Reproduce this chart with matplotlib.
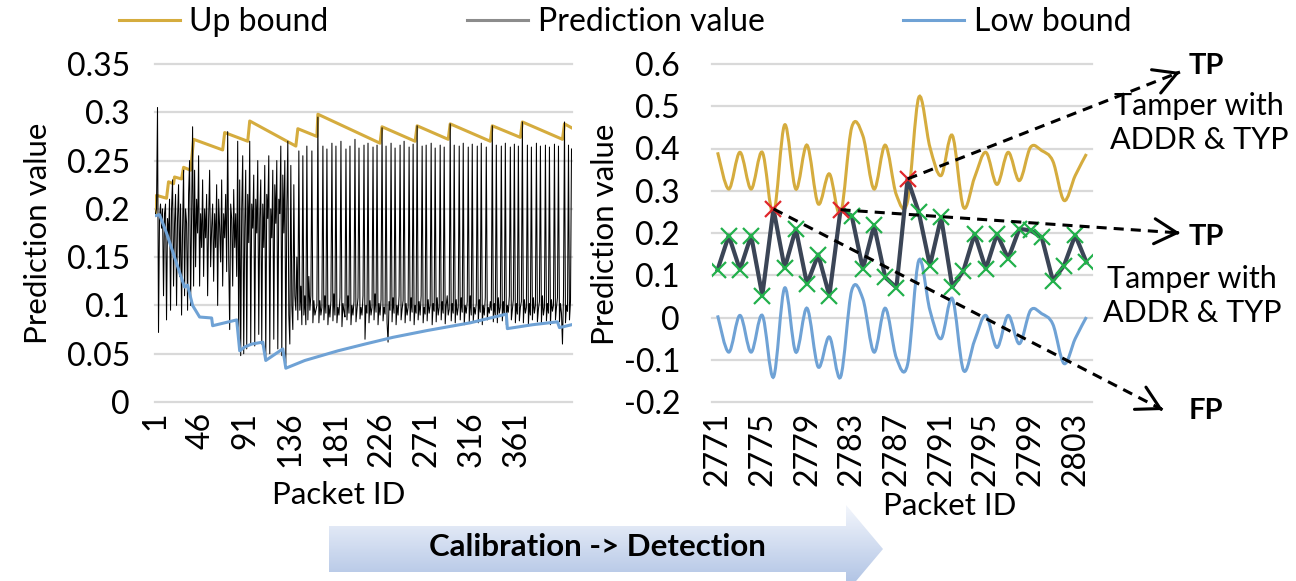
import numpy as np
import matplotlib.pyplot as plt
from matplotlib.path import Path
from matplotlib.patches import PathPatch, Polygon
from matplotlib.lines import Line2D
from matplotlib.colors import LinearSegmentedColormap

plt.rcParams['font.family'] = ['Lato', 'DejaVu Sans']

W, H = 1296, 581
GOLD = '#D5AC3E'
BLUE = '#6FA2D5'
SLATE = '#3B4556'
FS = 23

# ---- calibration phase (left chart), packet 1..416 ----
up_ids = [1, 2, 12, 14, 19, 20, 27, 29, 36, 39, 68, 70, 93, 95, 141, 143, 162, 163,
          225, 227, 260, 262, 293, 295, 335, 337, 365, 367, 407, 409, 416]
up_vals = [0.196, 0.214, 0.211, 0.228, 0.226, 0.233, 0.231, 0.243, 0.240, 0.272, 0.261,
           0.279, 0.270, 0.291, 0.265, 0.283, 0.275, 0.298, 0.268, 0.285, 0.270, 0.286,
           0.272, 0.288, 0.270, 0.286, 0.274, 0.290, 0.272, 0.288, 0.284]

low_ids = [1, 5, 12, 20, 27, 30, 33, 38, 45, 57, 58, 82, 85, 90, 97, 108, 111, 128, 131,
           150, 183, 210, 238, 272, 315, 351, 352, 377, 402, 404, 416]
low_vals = [0.193, 0.194, 0.175, 0.150, 0.128, 0.119, 0.121, 0.100, 0.088, 0.087, 0.079,
            0.085, 0.053, 0.057, 0.060, 0.062, 0.043, 0.055, 0.035, 0.043, 0.053, 0.060,
            0.067, 0.074, 0.082, 0.091, 0.076, 0.080, 0.083, 0.077, 0.080]

pred_vals = [
    0.195, 0.200, 0.305, 0.072, 0.190, 0.205, 0.180, 0.200, 0.110, 0.195, 0.205, 0.085, 0.190, 0.170, 0.210, 0.095, 0.200, 0.230, 0.120, 0.185,
    0.215, 0.100, 0.190, 0.225, 0.130, 0.205, 0.090, 0.180, 0.240, 0.110, 0.200, 0.185, 0.095, 0.215, 0.250, 0.100, 0.190, 0.285, 0.120, 0.240,
    0.140, 0.210, 0.175, 0.255, 0.120, 0.195, 0.160, 0.230, 0.130, 0.200, 0.170, 0.215, 0.110, 0.190, 0.240, 0.140, 0.180, 0.205, 0.125, 0.195,
    0.160, 0.225, 0.100, 0.210, 0.180, 0.145, 0.230, 0.120, 0.195, 0.170, 0.215, 0.135, 0.280, 0.150, 0.075, 0.205, 0.190, 0.120, 0.220, 0.160,
    0.195, 0.130, 0.270, 0.060, 0.230, 0.048, 0.200, 0.255, 0.050, 0.180, 0.240, 0.055, 0.215, 0.165, 0.270, 0.060, 0.205, 0.180, 0.235, 0.058,
    0.210, 0.175, 0.250, 0.070, 0.190, 0.230, 0.060, 0.205, 0.160, 0.245, 0.045, 0.215, 0.190, 0.255, 0.050, 0.200, 0.170, 0.240, 0.065, 0.225,
    0.185, 0.250, 0.055, 0.210, 0.195, 0.265, 0.048, 0.235, 0.175, 0.250, 0.040, 0.200, 0.270, 0.090, 0.060, 0.245, 0.100, 0.075, 0.225, 0.110,
    0.095, 0.150, 0.085, 0.260, 0.095, 0.120, 0.080, 0.255, 0.090, 0.110, 0.080, 0.265, 0.085, 0.130, 0.095, 0.110, 0.260, 0.082, 0.105, 0.090,
    0.095, 0.100, 0.295, 0.082, 0.105, 0.090, 0.098, 0.265, 0.085, 0.110,
    0.092, 0.262, 0.080, 0.100, 0.088, 0.105, 0.268, 0.084, 0.112, 0.090,
    0.265, 0.082, 0.098, 0.090, 0.108, 0.270, 0.078, 0.102, 0.094, 0.088,
    0.262, 0.085, 0.110, 0.092, 0.265, 0.080, 0.100, 0.090, 0.104, 0.272,
    0.083, 0.096, 0.108, 0.263, 0.086, 0.098, 0.090, 0.110, 0.266, 0.065,
    0.100, 0.092, 0.268, 0.082, 0.105, 0.090, 0.098, 0.264, 0.085, 0.112,
    0.093, 0.266, 0.080, 0.102, 0.090, 0.106, 0.284, 0.084, 0.098, 0.091,
    0.265, 0.082, 0.062, 0.104, 0.095, 0.268, 0.083, 0.108, 0.092, 0.263,
    0.080, 0.100, 0.090, 0.110, 0.266, 0.085, 0.096, 0.105, 0.270, 0.082,
    0.102, 0.090, 0.098, 0.264, 0.084, 0.108, 0.093, 0.267, 0.080, 0.100,
    0.092, 0.286, 0.085, 0.104, 0.090, 0.110, 0.265, 0.082, 0.098, 0.091,
    0.266, 0.084, 0.106, 0.092, 0.100, 0.268, 0.080, 0.102, 0.094, 0.263,
    0.083, 0.108, 0.090, 0.098, 0.266, 0.085, 0.104, 0.092, 0.264, 0.081,
    0.100, 0.110, 0.090, 0.096, 0.288, 0.084, 0.102, 0.092, 0.266, 0.082,
    0.106, 0.090, 0.098, 0.265, 0.085, 0.108, 0.093, 0.268, 0.080, 0.100,
    0.092, 0.104, 0.264, 0.083, 0.110, 0.090, 0.267, 0.084, 0.098, 0.091,
    0.102, 0.265, 0.082, 0.106, 0.093, 0.268, 0.080, 0.100, 0.090, 0.108,
    0.264, 0.085, 0.098, 0.092, 0.104, 0.095, 0.286, 0.083, 0.102, 0.090,
    0.266, 0.082, 0.108, 0.092, 0.098, 0.265, 0.084, 0.104, 0.090, 0.268,
    0.080, 0.100, 0.093, 0.110, 0.264, 0.085, 0.096, 0.106, 0.267, 0.082,
    0.102, 0.091, 0.265, 0.084, 0.098, 0.104, 0.290, 0.082, 0.106, 0.092,
    0.098, 0.266, 0.080, 0.102, 0.090, 0.264, 0.085, 0.108, 0.092, 0.100,
    0.268, 0.083, 0.096, 0.104, 0.265, 0.082, 0.110, 0.090, 0.098, 0.266,
    0.084, 0.102, 0.092, 0.264, 0.080, 0.106, 0.094, 0.100, 0.267, 0.085,
    0.098, 0.108, 0.265, 0.083, 0.102, 0.092, 0.060, 0.110, 0.290, 0.082,
    0.100, 0.094, 0.266, 0.085, 0.104, 0.262,
]
left_ticks = [1, 46, 91, 136, 181, 226, 271, 316, 361]
left_yticks = [0, 0.05, 0.1, 0.15, 0.2, 0.25, 0.3, 0.35]
left_ylabels = ['0', '0.05', '0.1', '0.15', '0.2', '0.25', '0.3', '0.35']

# ---- detection phase (right chart) ----
det_ids = list(range(2771, 2805))
det_up = [0.391, 0.304, 0.391, 0.304, 0.391, 0.245, 0.456, 0.304, 0.408, 0.269,
          0.340, 0.245, 0.450, 0.430, 0.304, 0.408, 0.290, 0.275, 0.521, 0.403,
          0.336, 0.431, 0.261, 0.332, 0.391, 0.315, 0.391, 0.324, 0.403, 0.395,
          0.370, 0.277, 0.336, 0.387]
det_low = [0.005, -0.082, 0.005, -0.082, 0.005, -0.141, 0.070, -0.082, 0.022, -0.117,
           -0.046, -0.141, 0.064, 0.044, -0.082, 0.022, -0.096, -0.111, 0.135, 0.017,
           -0.050, 0.045, -0.125, -0.054, 0.005, -0.071, 0.005, -0.062, 0.017, 0.009,
           -0.016, -0.109, -0.050, 0.001]
det_pred = [0.113, 0.194, 0.113, 0.194, 0.052, 0.257, 0.117, 0.210, 0.079, 0.149,
            0.052, 0.255, 0.241, 0.115, 0.218, 0.095, 0.071, 0.328, 0.249, 0.123,
            0.237, 0.072, 0.111, 0.198, 0.115, 0.198, 0.139, 0.210, 0.206, 0.190,
            0.087, 0.123, 0.195, 0.131]
right_yticks = [-0.2, -0.1, 0, 0.1, 0.2, 0.3, 0.4, 0.5, 0.6]
right_ylabels = ['-0.2', '-0.1', '0', '0.1', '0.2', '0.3', '0.4', '0.5', '0.6']


def smooth_path(x, y):
    # bezier path through the points, like a smoothed excel line
    x = np.asarray(x, float)
    y = np.asarray(y, float)
    n = len(x)
    verts = [(x[0], y[0])]
    codes = [Path.MOVETO]
    for i in range(n - 1):
        a = max(i - 1, 0)
        b = min(i + 2, n - 1)
        c1 = (x[i] + (x[i + 1] - x[a]) / 6, y[i] + (y[i + 1] - y[a]) / 6)
        c2 = (x[i + 1] - (x[b] - x[i]) / 6, y[i + 1] - (y[b] - y[i]) / 6)
        verts += [c1, c2, (x[i + 1], y[i + 1])]
        codes += [Path.CURVE4] * 3
    return Path(verts, codes)


def style(ax, yticks, ylabels, pad):
    for s in ax.spines.values():
        s.set_visible(False)
    ax.set_yticks(yticks)
    ax.set_yticklabels(ylabels)
    ax.yaxis.grid(True, color='#D9D9D9', lw=1.6)
    ax.set_axisbelow(True)
    ax.tick_params(axis='y', length=0, labelsize=FS, pad=pad)
    ax.tick_params(axis='x', length=0, labelsize=FS, pad=7, labelrotation=90)
    for gl in ax.get_ygridlines():
        gl.set_clip_on(False)


fig = plt.figure(figsize=(W / 100, H / 100), dpi=100)
ax1 = fig.add_axes([155 / W, 1 - 402 / H, 417 / W, 338 / H])
ax2 = fig.add_axes([712 / W, 1 - 402 / H, 380 / W, 338 / H])

# left chart
n = len(pred_vals)
ax1.plot(up_ids, up_vals, color=GOLD, lw=2.2)
ax1.plot(np.arange(1, n + 1), pred_vals, color='black', lw=0.75)
ax1.plot(low_ids, low_vals, color=BLUE, lw=2.2)
ax1.set_xlim(0.5, n + 0.5)
ax1.set_ylim(0, 0.35)
ax1.set_xticks(left_ticks)
ax1.set_xticklabels([str(t) for t in left_ticks])
style(ax1, left_yticks, left_ylabels, 18)
ax1.set_ylabel('Prediction value', fontsize=22.5)
ax1.yaxis.label.set_verticalalignment('center')
ax1.yaxis.set_label_coords((38 - 155) / 417, (402 - 233) / 338)
ax1.set_xlabel('Packet ID', fontsize=22.5)
ax1.xaxis.label.set_verticalalignment('center')
ax1.xaxis.set_label_coords((339 - 155) / 417, (402 - 495) / 338)

# right chart
xi = np.arange(len(det_ids))
up = np.array(det_up)
pred = np.array(det_pred)
ax2.add_patch(PathPatch(smooth_path(xi, det_up), fc='none', ec=GOLD, lw=2.2))
ax2.add_patch(PathPatch(smooth_path(xi, det_low), fc='none', ec=BLUE, lw=2.2))
ax2.plot(xi, pred, color=SLATE, lw=3)
flag = pred > up
ax2.plot(xi[~flag], pred[~flag], ls='none', marker='x', ms=12, mew=1.6, color='#22B04B')
ax2.plot(xi[flag], pred[flag], ls='none', marker='x', ms=12, mew=1.6, color='#E0262B')
ax2.set_xlim(-0.5, len(det_ids) - 0.5)
ax2.set_ylim(-0.2, 0.6)
ax2.set_xticks(xi[::4])
ax2.set_xticklabels([str(d) for d in det_ids[::4]])
style(ax2, right_yticks, right_ylabels, 23)
ax2.set_ylabel('Prediction value', fontsize=22.5)
ax2.yaxis.label.set_verticalalignment('center')
ax2.yaxis.set_label_coords((605 - 712) / 380, (402 - 234) / 338)
ax2.set_xlabel('Packet ID', fontsize=22.5)
ax2.xaxis.label.set_verticalalignment('center')
ax2.xaxis.set_label_coords((950 - 712) / 380, (402 - 506) / 338)

# legend on top
handles = [Line2D([], [], color=GOLD, lw=2.2),
           Line2D([], [], color='#8C8C8C', lw=2.2),
           Line2D([], [], color=BLUE, lw=2.2)]
fig.legend(handles, ['Up bound', 'Prediction value', 'Low bound'], loc='center',
           bbox_to_anchor=(625 / W, 1 - 22 / H), ncol=3, frameon=False, fontsize=23,
           handlelength=1.9, handletextpad=0.3, columnspacing=4.35, borderpad=0,
           borderaxespad=0)

# overlay in pixel coordinates for arrows and notes
over = fig.add_axes([0, 0, 1, 1])
over.set_xlim(0, W)
over.set_ylim(H, 0)
over.axis('off')

arrow_ends = [(1163, 410), (1180, 233), (1180, 72)]  # FP, TP, TP
for i, (ex, ey) in zip(np.where(flag)[0], arrow_ends):
    sx, sy = over.transData.inverted().transform(ax2.transData.transform((i, pred[i])))
    over.plot([sx, ex], [sy, ey], color='black', lw=2.2, ls=(0, (3.3, 2.3)), zorder=5)
    d = np.array([ex - sx, ey - sy])
    d = d / np.hypot(*d)
    over.annotate('', xy=(ex, ey), xytext=(ex - 3 * d[0], ey - 3 * d[1]),
                  arrowprops=dict(arrowstyle='->,head_length=0.45,head_width=0.25',
                                  lw=2.2, color='black', shrinkA=0, shrinkB=0,
                                  mutation_scale=36))

over.text(1206, 66, 'TP', fontsize=21, fontweight='bold', ha='center', va='center')
over.text(1199, 123, 'Tamper with\nADDR & TYP', fontsize=22, ha='center', va='center',
          linespacing=1.25)
over.text(1206, 237, 'TP', fontsize=21, fontweight='bold', ha='center', va='center')
over.text(1192, 296, 'Tamper with\nADDR & TYP', fontsize=22, ha='center', va='center',
          linespacing=1.25)
over.text(1206, 411, 'FP', fontsize=21, fontweight='bold', ha='center', va='center')

# calibration -> detection block arrow
shape = Polygon([(329, 526), (846, 526), (846, 505), (883, 549), (846, 593),
                 (846, 572), (329, 572)], closed=True, fc='none', ec='none')
over.add_patch(shape)
cmap = LinearSegmentedColormap.from_list('arr', ['#F3F6FC', '#A9BEE2'])
grad = np.linspace(0, 1, 64).reshape(-1, 1)
img = over.imshow(grad, cmap=cmap, extent=(329, 883, 593, 505), aspect='auto')
img.set_clip_path(shape)
over.set_xlim(0, W)
over.set_ylim(H, 0)
over.text(597, 547, 'Calibration -> Detection', fontsize=22.5, fontweight='bold',
          ha='center', va='center')

fig.savefig('out.png', dpi=100)
